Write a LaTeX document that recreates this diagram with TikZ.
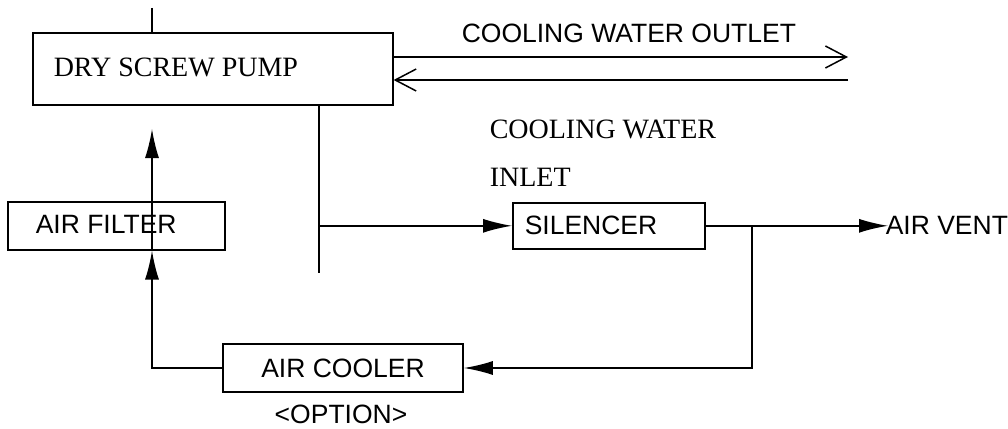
\documentclass[tikz,border=0pt]{standalone}
\usepackage{fontspec}
\setmainfont{Liberation Serif}
\newfontfamily\sansf{Liberation Sans}
\usetikzlibrary{arrows.meta}
\begin{document}
\begin{tikzpicture}[x=1pt,y=-1pt,
  line width=1.5pt,
  box/.style={draw,line width=1.6pt,inner sep=0pt,anchor=north west},
  stxt/.style={inner sep=0pt,anchor=base west,font=\sansf\fontsize{26.5}{30}\selectfont},
  rtxt/.style={inner sep=0pt,anchor=base west,font=\fontsize{28}{32}\selectfont},
  farrow/.style={-{Latex[length=29pt,width=14pt]}},
  oarrow/.style={-{Straight Barb[length=21pt,width=22pt,line width=1.5pt]}}
]
\useasboundingbox (0,0) rectangle (1008,428);
% boxes
\node[box,minimum width=360pt,minimum height=72pt] (pump) at (32,32) {};
\node[box,minimum width=217pt,minimum height=48pt] (filter) at (7,201) {};
\node[box,minimum width=192pt,minimum height=46pt] (silencer) at (512,202) {};
\node[box,minimum width=240pt,minimum height=48pt,anchor=center,font=\sansf\fontsize{26.5}{30}\selectfont] (cooler) at (343,368) {AIR COOLER};
% texts
\node[rtxt] (pumptxt) at (53,77) {DRY SCREW PUMP};
\node[stxt] (outtxt) at (461,42) {COOLING WATER OUTLET};
\node[rtxt] (intxt1) at (489,138) {COOLING WATER};
\node[rtxt] (intxt2) at (489,186) {INLET};
\node[stxt] (filtxt) at (35,233) {AIR FILTER};
\node[stxt] (siltxt) at (524,234) {SILENCER};
\node[stxt] (venttxt) at (885,234) {AIR VENT};
\node[inner sep=0pt,anchor=base,font=\sansf\fontsize{26.5}{30}\selectfont] (opttxt) at (341,423) {<OPTION>};
% coordinates
\coordinate (top) at (152,8);
\coordinate (owend) at (848,57);
\coordinate (iwend) at (848,80);
\coordinate (exb) at (319,273);
\coordinate (vent) at (888,225);
\coordinate (junc) at (752,225);
\coordinate (ftip) at (152,129);
% connectors
\draw (top) -- (pump.north -| top);
\draw[oarrow] (pump.east |- owend) -- (owend);
\draw[oarrow] (iwend) -- (pump.east |- iwend);
\draw (pump.south -| exb) -- (exb);
\draw[farrow] (exb |- silencer.west) -- (silencer.west);
\draw[farrow] (silencer.east) -- (vent |- silencer.east);
\draw[farrow] (junc |- silencer.east) |- (cooler.east);
\draw[farrow] (cooler.west) -- (cooler.west -| top) -- (filter.south -| top);
\draw[farrow] (filter.south -| top) -- (ftip);
\end{tikzpicture}
\end{document}
